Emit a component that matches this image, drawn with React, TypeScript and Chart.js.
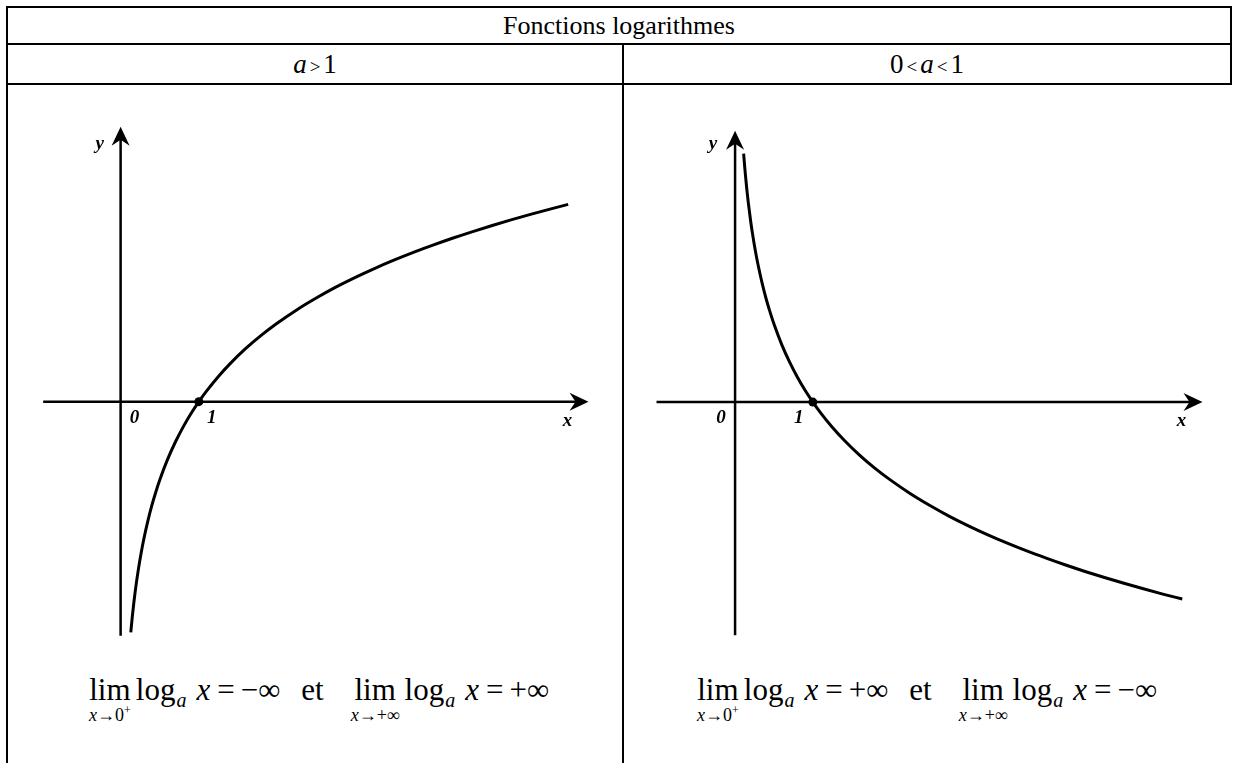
import React, { useEffect, useRef } from "react";
import { Chart, registerables } from "chart.js";

Chart.register(...registerables);

// ---- Data ----
const TITLE = "Fonctions logarithmes";

// a > 1 : increasing logarithm
const LEFT_CURVE_X = [0.13, 0.15, 0.17, 0.2, 0.23, 0.26, 0.3, 0.35, 0.4, 0.45, 0.5, 0.6, 0.7, 0.8, 0.9, 1, 1.1, 1.25, 1.4, 1.6, 1.8, 2, 2.25, 2.5, 2.75, 3, 3.25, 3.5, 3.75, 4, 4.25, 4.5, 4.75, 5, 5.25, 5.5, 5.72];
const LEFT_CURVE_Y = [-2.04, -1.897, -1.772, -1.609, -1.47, -1.347, -1.204, -1.05, -0.916, -0.799, -0.693, -0.511, -0.357, -0.223, -0.105, 0, 0.095, 0.223, 0.336, 0.47, 0.588, 0.693, 0.811, 0.916, 1.012, 1.099, 1.179, 1.253, 1.322, 1.386, 1.447, 1.504, 1.558, 1.609, 1.658, 1.705, 1.744];

// 0 < a < 1 : decreasing logarithm
const RIGHT_CURVE_X = [0.11, 0.12, 0.13, 0.15, 0.17, 0.2, 0.23, 0.26, 0.3, 0.35, 0.4, 0.45, 0.5, 0.6, 0.7, 0.8, 0.9, 1, 1.1, 1.25, 1.4, 1.6, 1.8, 2, 2.25, 2.5, 2.75, 3, 3.25, 3.5, 3.75, 4, 4.25, 4.5, 4.75, 5, 5.25, 5.5, 5.75];
const RIGHT_CURVE_Y = [2.207, 2.12, 2.04, 1.897, 1.772, 1.609, 1.47, 1.347, 1.204, 1.05, 0.916, 0.799, 0.693, 0.511, 0.357, 0.223, 0.105, 0, -0.095, -0.223, -0.336, -0.47, -0.588, -0.693, -0.811, -0.916, -1.012, -1.099, -1.179, -1.253, -1.322, -1.386, -1.447, -1.504, -1.558, -1.609, -1.658, -1.705, -1.749];

// marked point (1, 0)
const MARK_X = [1];
const MARK_Y = [0];

// tick labels on the x axis and axis names
const TICK_VALUES = [0, 1];
const TICK_LABELS = ["0", "1"];
const AXIS_NAMES = ["x", "y"];

// limits text
const LEFT_LIMITS = ["−∞", "+∞"];
const RIGHT_LIMITS = ["+∞", "−∞"];

const SERIF = '"Liberation Serif", "Times New Roman", serif';

type AxesCfg = {
  xFrom: number;
  xTo: number;
  yFrom: number;
  yTo: number;
  tickOff: [number, number][];
  xNameOff: [number, number];
  yNameOff: [number, number];
};

function makeAxesPlugin(id: string, cfg: AxesCfg) {
  return {
    id,
    beforeDatasetsDraw(chart: any) {
      const { ctx } = chart;
      const xs = chart.scales.x;
      const ys = chart.scales.y;
      const x0 = xs.getPixelForValue(0);
      const y0 = ys.getPixelForValue(0);
      const xa = xs.getPixelForValue(cfg.xFrom);
      const xb = xs.getPixelForValue(cfg.xTo);
      const ya = ys.getPixelForValue(cfg.yFrom);
      const yb = ys.getPixelForValue(cfg.yTo);
      ctx.save();
      ctx.strokeStyle = "#000";
      ctx.fillStyle = "#000";
      ctx.lineWidth = 2.5;
      ctx.beginPath();
      ctx.moveTo(xa, y0);
      ctx.lineTo(xb - 10, y0);
      ctx.moveTo(x0, ya);
      ctx.lineTo(x0, yb + 10);
      ctx.stroke();
      // x arrow
      ctx.beginPath();
      ctx.moveTo(xb, y0);
      ctx.lineTo(xb - 19, y0 - 9);
      ctx.lineTo(xb - 13, y0);
      ctx.lineTo(xb - 19, y0 + 9);
      ctx.closePath();
      ctx.fill();
      // y arrow
      ctx.beginPath();
      ctx.moveTo(x0, yb);
      ctx.lineTo(x0 - 9, yb + 19);
      ctx.lineTo(x0, yb + 13);
      ctx.lineTo(x0 + 9, yb + 19);
      ctx.closePath();
      ctx.fill();
      // labels
      ctx.font = `italic bold 19px ${SERIF}`;
      ctx.textAlign = "center";
      ctx.textBaseline = "middle";
      TICK_VALUES.forEach((v, i) => {
        const px = xs.getPixelForValue(v);
        ctx.fillText(TICK_LABELS[i], px + cfg.tickOff[i][0], y0 + cfg.tickOff[i][1]);
      });
      ctx.fillText(AXIS_NAMES[0], xb + cfg.xNameOff[0], y0 + cfg.xNameOff[1]);
      ctx.fillText(AXIS_NAMES[1], x0 + cfg.yNameOff[0], yb + cfg.yNameOff[1]);
      ctx.restore();
    },
  };
}

type ChartProps = {
  id: string;
  left: number;
  top: number;
  width: number;
  height: number;
  xMin: number;
  xMax: number;
  yMin: number;
  yMax: number;
  cx: number[];
  cy: number[];
  axes: AxesCfg;
};

function LogChart(p: ChartProps) {
  const ref = useRef<HTMLCanvasElement>(null);
  useEffect(() => {
    const chart = new Chart(ref.current as HTMLCanvasElement, {
      type: "scatter",
      data: {
        datasets: [
          {
            data: p.cx.map((x, i) => ({ x, y: p.cy[i] })),
            showLine: true,
            borderColor: "#000",
            borderWidth: 3,
            pointRadius: 0,
            cubicInterpolationMode: "monotone",
            fill: false,
          } as any,
          {
            data: MARK_X.map((x, i) => ({ x, y: MARK_Y[i] })),
            pointRadius: 4.5,
            pointBackgroundColor: "#000",
            pointBorderWidth: 0,
            borderColor: "#000",
            backgroundColor: "#000",
          } as any,
        ],
      },
      options: {
        animation: false,
        responsive: false,
        devicePixelRatio: 1,
        layout: { padding: 0 },
        plugins: { legend: { display: false }, tooltip: { enabled: false } },
        events: [],
        scales: {
          x: { type: "linear", min: p.xMin, max: p.xMax, display: false },
          y: { type: "linear", min: p.yMin, max: p.yMax, display: false },
        },
      },
      plugins: [makeAxesPlugin(p.id, p.axes)],
    });
    return () => chart.destroy();
  }, []);
  return (
    <canvas
      ref={ref}
      width={p.width}
      height={p.height}
      style={{ position: "absolute", left: p.left, top: p.top, width: p.width, height: p.height }}
    />
  );
}

function Line(props: { l: number; t: number; w: number; h: number }) {
  return (
    <div style={{ position: "absolute", left: props.l, top: props.t, width: props.w, height: props.h, background: "#000" }} />
  );
}

function LimBlock(props: { sub: React.ReactNode; ml: number }) {
  return (
    <span
      style={{
        display: "inline-flex",
        flexDirection: "column",
        alignItems: "center",
        marginLeft: props.ml,
      }}
    >
      <span style={{ lineHeight: "40px" }}>lim</span>
      <span style={{ fontSize: 18, lineHeight: "20px", marginTop: -5, whiteSpace: "nowrap" }}>{props.sub}</span>
    </span>
  );
}

function Formula(props: { left: number; top: number; signs: string[] }) {
  const it = { fontStyle: "italic" as const };
  const subA = (ml: number) => (
    <span style={{ ...it, fontSize: 20, marginLeft: ml, position: "relative", top: 7 }}>a</span>
  );
  return (
    <div
      style={{
        position: "absolute",
        left: props.left,
        top: props.top,
        display: "flex",
        alignItems: "baseline",
        fontFamily: SERIF,
        fontSize: 31,
        lineHeight: "40px",
        whiteSpace: "nowrap",
        color: "#000",
      }}
    >
      <LimBlock
        ml={0}
        sub={
          <span>
            <span style={it}>x</span>→0<span style={{ fontSize: 12, position: "relative", top: -7 }}>+</span>
          </span>
        }
      />
      <span style={{ marginLeft: 5 }}>log</span>
      {subA(1)}
      <span style={{ ...it, marginLeft: 10 }}>x</span>
      <span style={{ marginLeft: 7 }}>=</span>
      <span style={{ marginLeft: 6 }}>{props.signs[0]}</span>
      <span style={{ marginLeft: 21 }}>et</span>
      <LimBlock
        ml={27}
        sub={
          <span>
            <span style={it}>x</span>→+∞
          </span>
        }
      />
      <span style={{ marginLeft: 5 }}>log</span>
      {subA(1)}
      <span style={{ ...it, marginLeft: 10 }}>x</span>
      <span style={{ marginLeft: 7 }}>=</span>
      <span style={{ marginLeft: 6 }}>{props.signs[1]}</span>
    </div>
  );
}

export default function App() {
  const cell = (l: number, w: number, t: number, h: number, content: React.ReactNode, fs: number) => (
    <div
      style={{
        position: "absolute",
        left: l,
        top: t,
        width: w,
        height: h,
        display: "flex",
        alignItems: "center",
        justifyContent: "center",
        fontFamily: SERIF,
        fontSize: fs,
        color: "#000",
        whiteSpace: "nowrap",
      }}
    >
      {content}
    </div>
  );
  const small = { fontSize: 19, margin: "0 3px" };
  return (
    <div
      style={{
        position: "absolute",
        left: 0,
        top: 0,
        width: 1236,
        height: 763,
        overflow: "hidden",
        background: "#fff",
      }}
    >
      {/* table borders */}
      <Line l={6} t={6} w={1226} h={2} />
      <Line l={6} t={6} w={2} h={760} />
      <Line l={6} t={43} w={1226} h={2} />
      <Line l={6} t={83} w={1226} h={2} />
      <Line l={622} t={43} w={2} h={720} />
      <Line l={1230} t={6} w={2} h={79} />

      {cell(8, 1222, 8, 35, TITLE, 26)}
      {cell(
        8,
        614,
        45,
        38,
        <span>
          <span style={{ fontStyle: "italic" }}>a</span>
          <span style={small}>&gt;</span>1
        </span>,
        27
      )}
      {cell(
        624,
        606,
        45,
        38,
        <span>
          0<span style={small}>&lt;</span>
          <span style={{ fontStyle: "italic" }}>a</span>
          <span style={small}>&lt;</span>1
        </span>,
        27
      )}

      <LogChart
        id="leftAxes"
        left={30}
        top={110}
        width={570}
        height={540}
        xMin={-1.1006}
        xMax={6.0692}
        yMin={-2.1565}
        yMax={2.5391}
        cx={LEFT_CURVE_X}
        cy={LEFT_CURVE_Y}
        axes={{
          xFrom: -0.99,
          xTo: 5.98,
          yFrom: -2.07,
          yTo: 2.43,
          tickOff: [
            [14, 16],
            [13, 16],
          ],
          xNameOff: [-21, 19],
          yNameOff: [-21, 17],
        }}
      />
      <LogChart
        id="rightAxes"
        left={640}
        top={110}
        width={580}
        height={540}
        xMin={-1.1646}
        xMax={6.1772}
        yMin={-2.1616}
        yMax={2.5546}
        cx={RIGHT_CURVE_X}
        cy={RIGHT_CURVE_Y}
        axes={{
          xFrom: -1.01,
          xTo: 6.01,
          yFrom: -2.07,
          yTo: 2.41,
          tickOff: [
            [-14, 16],
            [-14, 16],
          ],
          xNameOff: [-21, 19],
          yNameOff: [-22, 13],
        }}
      />

      <Formula left={89} top={670} signs={LEFT_LIMITS} />
      <Formula left={697} top={670} signs={RIGHT_LIMITS} />
    </div>
  );
}
